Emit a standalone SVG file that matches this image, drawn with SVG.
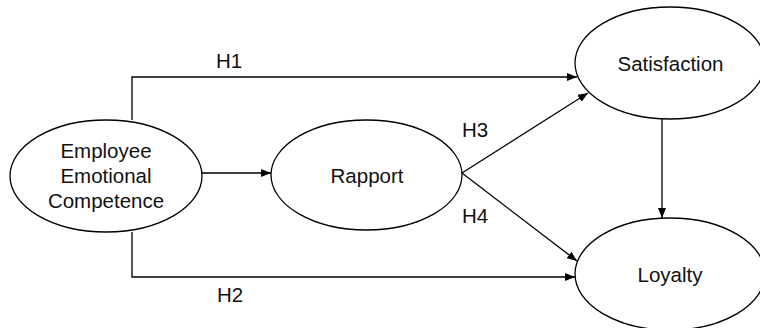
<svg xmlns="http://www.w3.org/2000/svg" width="760" height="328" viewBox="0 0 760 328">
<style>
.node{fill:#fff;stroke:#000;stroke-width:1.3}
.lbl{font-family:"Liberation Sans",Arial,sans-serif;font-size:20.5px;fill:#111;text-anchor:middle}
.edge{fill:none;stroke:#000;stroke-width:1.3}
</style>
<defs>
<marker id="ah" markerWidth="10" markerHeight="8" refX="10" refY="4" orient="auto" markerUnits="userSpaceOnUse">
<path d="M0,0 L10,4 L0,8 Z" fill="#000"/>
</marker>
</defs>
<rect width="760" height="328" fill="#fff"/>
<g id="connectors">
<polyline class="edge" points="132,120 132,77 577,77" marker-end="url(#ah)"/>
<polyline class="edge" points="132,232 132,277 575,277" marker-end="url(#ah)"/>
<line class="edge" x1="202" y1="173" x2="271" y2="173" marker-end="url(#ah)"/>
<line class="edge" x1="462" y1="173" x2="588" y2="93" marker-end="url(#ah)"/>
<line class="edge" x1="462" y1="173" x2="577" y2="261" marker-end="url(#ah)"/>
<line class="edge" x1="662" y1="118" x2="662" y2="218" marker-end="url(#ah)"/>
<text class="lbl" x="229" y="68">H1</text>
<text class="lbl" x="230" y="302">H2</text>
<text class="lbl" x="475" y="137">H3</text>
<text class="lbl" x="475" y="223">H4</text>
</g>
<g id="eec">
<ellipse class="node" cx="106" cy="176" rx="96" ry="56"/>
<text class="lbl" x="106" y="158">Employee</text>
<text class="lbl" x="106" y="183">Emotional</text>
<text class="lbl" x="106" y="208">Competence</text>
</g>
<g id="rapport">
<ellipse class="node" cx="366.5" cy="175" rx="95.5" ry="55"/>
<text class="lbl" x="367" y="183">Rapport</text>
</g>
<g id="satisfaction">
<ellipse class="node" cx="670" cy="63" rx="95" ry="56"/>
<text class="lbl" x="670.5" y="71">Satisfaction</text>
</g>
<g id="loyalty">
<ellipse class="node" cx="670" cy="274" rx="95" ry="56"/>
<text class="lbl" x="670" y="282">Loyalty</text>
</g>
</svg>
